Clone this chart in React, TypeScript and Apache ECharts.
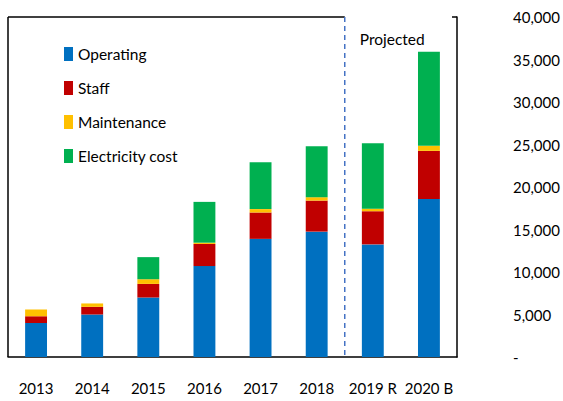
import React, { useEffect, useRef } from "react";
import * as echarts from "echarts";

const categories = ["2013", "2014", "2015", "2016", "2017", "2018", "2019 R", "2020 B"];
const operating = [4000, 5000, 7000, 10700, 13900, 14750, 13250, 18600];
const staff = [800, 900, 1600, 2600, 3100, 3650, 3900, 5650];
const maintenance = [800, 400, 550, 150, 400, 400, 300, 600];
const electricity = [0, 0, 2600, 4800, 5500, 6000, 7700, 11050];
const yTicks = [0, 5000, 10000, 15000, 20000, 25000, 30000, 35000, 40000];

const FONT = "Lato, 'Open Sans', sans-serif";

export default function App() {
  const ref = useRef<HTMLDivElement>(null);
  useEffect(() => {
    if (!ref.current) return;
    const chart = echarts.init(ref.current, null, { renderer: "svg" });
    const mk = (name: string, data: number[], color: string) => ({
      name,
      type: "bar",
      stack: "total",
      data,
      barWidth: "39%",
      itemStyle: { color },
    });
    chart.setOption({
      animation: false,
      textStyle: { fontFamily: FONT },
      grid: { left: 8, right: 106, top: 17, bottom: 44, containLabel: false },
      legend: {
        orient: "vertical",
        left: 59,
        top: 39,
        itemWidth: 9,
        itemHeight: 14,
        itemGap: 14,
        icon: "rect",
        textStyle: { fontSize: 15.5, color: "#000", fontFamily: FONT, lineHeight: 20 },
        data: ["Operating", "Staff", "Maintenance", "Electricity cost"],
      },
      xAxis: {
        type: "category",
        data: categories,
        axisLine: { show: true, lineStyle: { color: "#000", width: 1.5 } },
        axisTick: { show: false },
        axisLabel: { color: "#000", fontSize: 15, margin: 23, fontFamily: FONT, interval: 0 },
      },
      yAxis: {
        type: "value",
        position: "right",
        min: yTicks[0],
        max: yTicks[yTicks.length - 1],
        interval: 5000,
        splitLine: { show: false },
        axisLine: { show: true, lineStyle: { color: "#000", width: 1.5 } },
        axisTick: { show: false },
        axisLabel: {
          color: "#000",
          fontSize: 15,
          margin: 56,
          fontFamily: FONT,
          formatter: (v: number) => (v === 0 ? "-" : v.toLocaleString("en-US")),
        },
      },
      series: [
        mk("Operating", operating, "#0070C0"),
        mk("Staff", staff, "#C00000"),
        mk("Maintenance", maintenance, "#FFC000"),
        mk("Electricity cost", electricity, "#00B050"),
      ],
    });
    const p5 = chart.convertToPixel({ xAxisIndex: 0 }, categories[5]) as number;
    const p6 = chart.convertToPixel({ xAxisIndex: 0 }, categories[6]) as number;
    const xd = (p5 + p6) / 2;
    const yTop = chart.convertToPixel({ yAxisIndex: 0 }, 40000) as number;
    const yBot = chart.convertToPixel({ yAxisIndex: 0 }, 0) as number;
    const xLeft = (chart.convertToPixel({ xAxisIndex: 0 }, categories[0]) as number) - (p6 - p5) / 2;
    const xRight = (chart.convertToPixel({ xAxisIndex: 0 }, categories[7]) as number) + (p6 - p5) / 2;
    chart.setOption({
      graphic: [
        { type: "line", shape: { x1: xLeft, y1: yTop, x2: xLeft, y2: yBot }, style: { stroke: "#000", lineWidth: 1.5 } },
        { type: "line", shape: { x1: xLeft, y1: yTop, x2: xd, y2: yTop }, style: { stroke: "#000", lineWidth: 1.5 } },
        { type: "line", shape: { x1: xRight - 5, y1: yTop, x2: xRight, y2: yTop }, style: { stroke: "#000", lineWidth: 1.5 } },
        { type: "line", shape: { x1: xd, y1: yTop, x2: xd, y2: yBot }, style: { stroke: "#4472C4", lineWidth: 1.5, lineDash: [5, 4] } },
        {
          type: "text",
          x: xd + 15,
          y: yTop + 22,
          style: { text: "Projected", font: `15.5px ${FONT}`, fill: "#000", textVerticalAlign: "middle" },
        },
      ],
    });
    return () => chart.dispose();
  }, []);
  return <div ref={ref} style={{ width: 563, height: 401, position: "absolute", left: 0, top: 0 }} />;
}
